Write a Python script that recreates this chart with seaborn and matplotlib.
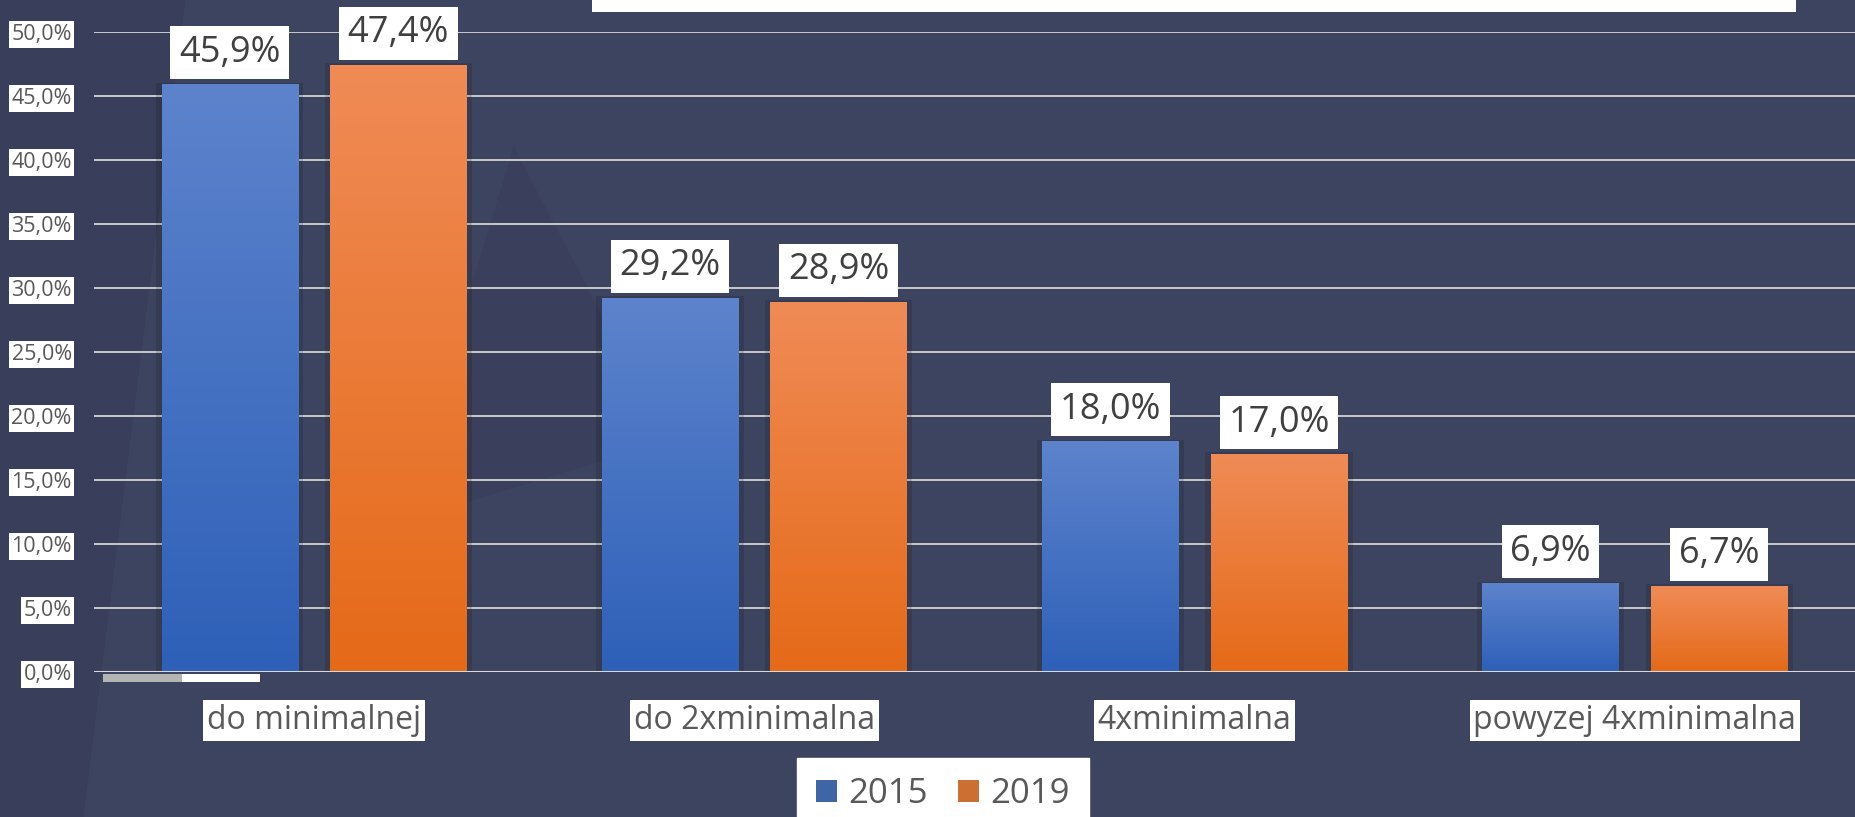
import numpy as np
import pandas as pd
import matplotlib
matplotlib.use("Agg")
import matplotlib.pyplot as plt
import seaborn as sns
from matplotlib.patches import Rectangle, Polygon

# data
kategorie = ["do minimalnej", "do 2xminimalna", "4xminimalna", "powyzej 4xminimalna"]
lata = ["2015", "2019"]
v2015 = [45.9, 29.2, 18.0, 6.9]
v2019 = [47.4, 28.9, 17.0, 6.7]
y_ticks = [0, 5, 10, 15, 20, 25, 30, 35, 40, 45, 50]

df = pd.DataFrame({
    "kategoria": kategorie * 2,
    "rok": [lata[0]] * 4 + [lata[1]] * 4,
    "udzial": v2015 + v2019,
})

bg = "#3d4460"
grad = {
    "2015": ("#5d83cc", "#2e60b8"),
    "2019": ("#f08b56", "#e56a18"),
}

sns.set_style("white")
plt.rcParams["font.family"] = ["Open Sans", "DejaVu Sans"]

fig = plt.figure(figsize=(18.55, 8.17), dpi=100, facecolor=bg)
ax = fig.add_axes([94 / 1855, 145 / 817, 1761 / 1855, 640 / 817])
ax.set_facecolor(bg)
ax.patch.set_alpha(0)

# faint background shapes
for pts, c in [
    ([(0, 0.0), (0.045, 0.0), (0.10, 1.0), (0.0, 1.0)], "#393f5a"),
    ([(0.277, 0.82), (0.215, 0.36), (0.36, 0.46)], "#3a405c"),
]:
    fig.patches.append(Polygon(pts, closed=True, transform=fig.transFigure,
                               fc=c, ec="none", zorder=-5))

sns.barplot(data=df, x="kategoria", y="udzial", hue="rok", hue_order=lata,
            palette=[grad["2015"][1], grad["2019"][1]], width=0.766, gap=0.19,
            linewidth=0, ax=ax, zorder=3)

# gradient fill + soft shadow on each bar
for cont, rok in zip(ax.containers, lata):
    top, bot = grad[rok]
    cmap = matplotlib.colors.LinearSegmentedColormap.from_list(rok, [bot, top])
    for p in cont.patches:
        x, w, h = p.get_x(), p.get_width(), p.get_height()
        ax.add_patch(Rectangle((x - 0.012, 0), w + 0.024, h + 0.15,
                               fc="black", alpha=0.13, ec="none", zorder=2))
        img = np.linspace(0, 1, 200).reshape(-1, 1)
        ax.imshow(img, extent=[x, x + w, 0, h], origin="lower", cmap=cmap,
                  aspect="auto", zorder=3.5)
    labels = [f"{v:.1f}%".replace(".", ",") for v in cont.datavalues]
    ax.bar_label(cont, labels=labels, padding=10, fontsize=26, color="#404040",
                 bbox=dict(boxstyle="square,pad=0.24", fc="white", ec="none"),
                 zorder=5)

ax.set_xlim(-0.5, 3.5)
ax.set_ylim(0, 50)
ax.set_yticks(y_ticks)
ax.set_yticklabels([f"{t:.1f}%".replace(".", ",") for t in y_ticks])
for y in y_ticks[1:]:
    ax.axhline(y, color="#d4d4d4", lw=1.3, zorder=1)
ax.axhline(0, color="#d9d9d9", lw=2.2, zorder=4)

for s in ax.spines.values():
    s.set_visible(False)
ax.tick_params(axis="y", length=0, pad=16, labelsize=15.5, labelcolor="#595959")
ax.tick_params(axis="x", length=0, pad=23, labelsize=23, labelcolor="#595959")
for t in ax.get_yticklabels():
    t.set_bbox(dict(boxstyle="square,pad=0.12", fc="white", ec="none"))
for t in ax.get_xticklabels():
    t.set_bbox(dict(boxstyle="square,pad=0.12", fc="white", ec="none"))
ax.set_xlabel("")
ax.set_ylabel("")

sns.move_legend(ax, "upper center", bbox_to_anchor=(943 / 1855, 1 - 741 / 817),
                bbox_transform=fig.transFigure, ncol=2, title=None, frameon=True,
                fontsize=25, handlelength=0.6, handleheight=0.6,
                handletextpad=0.35, columnspacing=0.85, borderpad=0.55,
                fancybox=False, facecolor="white", edgecolor="white",
                framealpha=1)
for t in ax.get_legend().get_texts():
    t.set_color("#595959")

# top title box (cut off) and small scrollbar-like strip
fig.patches.append(Rectangle((592 / 1855, 1 - 12 / 817), 1204 / 1855, 12 / 817,
                             transform=fig.transFigure, fc="white", ec="none"))
fig.patches.append(Rectangle((103 / 1855, 1 - 682 / 817), 79 / 1855, 8 / 817,
                             transform=fig.transFigure, fc="#b4b4b4", ec="none",
                             zorder=10))
fig.patches.append(Rectangle((182 / 1855, 1 - 682 / 817), 78 / 1855, 8 / 817,
                             transform=fig.transFigure, fc="white", ec="none",
                             zorder=10))

fig.savefig("out.png", dpi=100, facecolor=bg)
